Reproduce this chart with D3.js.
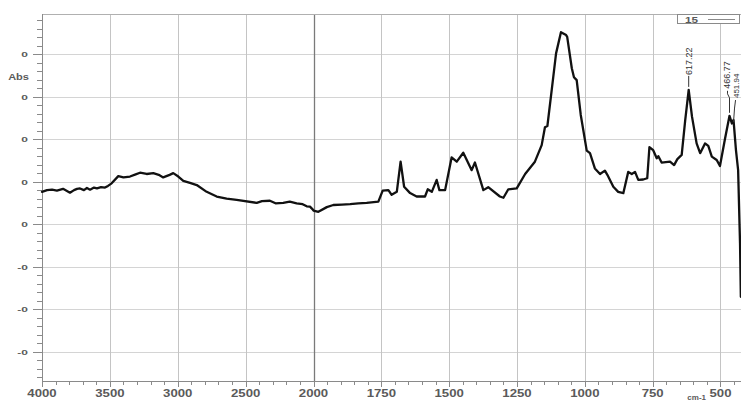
<!DOCTYPE html>
<html><head><meta charset="utf-8">
<script src="https://cdn.jsdelivr.net/npm/d3@7"></script>
<style>
html,body{margin:0;padding:0;background:#fff;overflow:hidden}
svg{display:block}
text{font-family:"Liberation Sans",Arial,sans-serif}
</style></head><body>
<svg id="chart" width="741" height="403"></svg>
<script>
// IR absorbance spectrum of sample 15
const wavenumber = [4000,3963,3926,3890,3845,3816,3794,3764,3742,3720,3691,3669,3646,3617,3595,3565,3536,3514,3487,3438,3400,3352,3310,3278,3229,3180,3140,3107,3060,3033,2996,2959,2910,2860,2787,2713,2640,2566,2418,2380,2321,2280,2223,2175,2124,2080,2050,2026,2010,2000,1982,1951,1927,1895,1865,1835,1804,1761,1745,1724,1712,1693,1679,1666,1644,1620,1589,1579,1564,1546,1536,1515,1491,1472,1448,1417,1405,1374,1356,1313,1300,1282,1251,1220,1184,1159,1147,1138,1122,1106,1088,1069,1065,1048,1040,1030,1015,993,981,963,944,926,917,895,877,858,840,827,815,803,785,770,762,748,735,729,717,686,671,659,643,630,617.22,605,588,575,557,545,532,514,502,483,466.77,458,451.94,443,435,428,425];
const absorbance = [0.0076,0.0080,0.0081,0.0079,0.0083,0.0078,0.0074,0.0080,0.0083,0.0084,0.0080,0.0085,0.0081,0.0086,0.0084,0.0087,0.0086,0.0090,0.0096,0.0113,0.0110,0.0112,0.0117,0.0121,0.0118,0.0120,0.0116,0.0110,0.0116,0.0120,0.0112,0.0102,0.0097,0.0092,0.0076,0.0065,0.0060,0.0057,0.0050,0.0054,0.0055,0.0049,0.0050,0.0053,0.0049,0.0047,0.0042,0.0041,0.0036,0.0032,0.0029,0.0040,0.0045,0.0046,0.0047,0.0049,0.0050,0.0053,0.0079,0.0080,0.0069,0.0076,0.0147,0.0088,0.0073,0.0065,0.0065,0.0082,0.0076,0.0104,0.0080,0.0080,0.0157,0.0147,0.0168,0.0127,0.0145,0.0080,0.0087,0.0065,0.0062,0.0082,0.0084,0.0118,0.0147,0.0186,0.0228,0.0231,0.0316,0.0402,0.0452,0.0445,0.0441,0.0367,0.0346,0.0339,0.0257,0.0173,0.0167,0.0131,0.0118,0.0126,0.0116,0.0088,0.0076,0.0073,0.0123,0.0118,0.0123,0.0104,0.0105,0.0108,0.0181,0.0174,0.0155,0.0160,0.0145,0.0147,0.0139,0.0153,0.0163,0.0245,0.0316,0.0253,0.0190,0.0167,0.0190,0.0184,0.0159,0.0151,0.0137,0.0202,0.0255,0.0237,0.0245,0.0174,0.0127,-0.0045,-0.0171];

const xTicks = [4000,3500,3000,2500,2000,1750,1500,1250,1000,750,500];
const xTickLabels = ["4000","3500","3000","2500","2000","1750","1500","1250","1000","750","500"];
const yTicks = [0.04,0.03,0.02,0.01,0,-0.01,-0.02,-0.03];
const yTickLabels = ["0","0","0","0","0","-0","-0","-0"];
const peakPositions = [617.22,466.77,451.94];
const peakLabels = ["617.22","466.77","451.94"];
const seriesName = "15";
const xTitle = "cm-1";
const yTitle = "Abs";

const svg = d3.select("#chart");
const L = 42, T = 14, B = 381, R = 741;

// split wavenumber axis: 4000-2000 compressed to half the density of 2000-420
const x = d3.scaleLinear().domain([4000, 2000, 420]).range([L, 313.5, 742.2]);
const y = d3.scaleLinear().domain([-0.03694, 0.04947]).range([B, T]);

const gridColor = "#d4d4d4";
const axisColor = "#8a8a8a";
const labelColor = "#5a5a5a";

// horizontal grid
svg.append("g").selectAll("line").data(yTicks).join("line")
  .attr("x1", L).attr("x2", R)
  .attr("y1", d => Math.round(y(d)) + 0.5).attr("y2", d => Math.round(y(d)) + 0.5)
  .attr("stroke", gridColor).attr("stroke-width", 1);

// vertical grid
svg.append("g").selectAll("line").data(xTicks.filter(d => d !== 4000)).join("line")
  .attr("x1", d => Math.round(x(d)) + 0.5).attr("x2", d => Math.round(x(d)) + 0.5)
  .attr("y1", T).attr("y2", B)
  .attr("stroke", d => d === 2000 ? "#7a7a7a" : "#c4c4c4")
  .attr("stroke-width", d => d === 2000 ? 1.3 : 1);

// top frame
svg.append("line").attr("x1", L).attr("x2", R).attr("y1", T + 0.5).attr("y2", T + 0.5)
  .attr("stroke", "#b0b0b0");

// bottom axis
const minorX = d3.range(4000, 2000, -100).concat(d3.range(2000, 420, -50)).filter(d => !xTicks.includes(d));
const gx = svg.append("g");
gx.append("line").attr("x1", L).attr("x2", R).attr("y1", B + 0.5).attr("y2", B + 0.5).attr("stroke", axisColor);
gx.selectAll(".minor").data(minorX).join("line").attr("class", "minor")
  .attr("x1", d => Math.round(x(d)) + 0.5).attr("x2", d => Math.round(x(d)) + 0.5)
  .attr("y1", B).attr("y2", B + 4).attr("stroke", axisColor);
gx.selectAll(".major").data(xTicks).join("line").attr("class", "major")
  .attr("x1", d => Math.round(x(d)) + 0.5).attr("x2", d => Math.round(x(d)) + 0.5)
  .attr("y1", B).attr("y2", B + 6).attr("stroke", axisColor);
gx.selectAll("text").data(xTicks).join("text")
  .attr("transform", d => `translate(${x(d)},${397}) scale(1.32,1)`)
  .attr("text-anchor", "middle").attr("font-size", 10).attr("font-weight", "bold")
  .attr("fill", labelColor)
  .text((d, i) => xTickLabels[i]);

// left axis
const minorY = d3.range(-0.036, 0.0481, 0.002).filter(v => !yTicks.some(t => Math.abs(t - v) < 1e-6));
const gy = svg.append("g");
gy.append("line").attr("x1", L + 0.5).attr("x2", L + 0.5).attr("y1", T).attr("y2", B).attr("stroke", axisColor);
gy.selectAll(".minor").data(minorY).join("line").attr("class", "minor")
  .attr("x1", L - 5).attr("x2", L)
  .attr("y1", d => Math.round(y(d)) + 0.5).attr("y2", d => Math.round(y(d)) + 0.5).attr("stroke", axisColor);
gy.selectAll(".major").data(yTicks).join("line").attr("class", "major")
  .attr("x1", L - 9).attr("x2", L)
  .attr("y1", d => Math.round(y(d)) + 0.5).attr("y2", d => Math.round(y(d)) + 0.5).attr("stroke", axisColor);
gy.selectAll("text").data(yTicks).join("text")
  .attr("transform", d => `translate(28,${y(d) + 3}) scale(1.5,1)`)
  .attr("text-anchor", "end").attr("font-size", 8).attr("font-weight", "bold")
  .attr("fill", labelColor)
  .text((d, i) => yTickLabels[i]);

// axis titles
svg.append("text")
  .attr("transform", "translate(29,80) scale(1.3,1)")
  .attr("text-anchor", "end").attr("font-size", 8.5).attr("font-weight", "bold")
  .attr("fill", labelColor).text(yTitle);
svg.append("text").attr("x", 706).attr("y", 400)
  .attr("text-anchor", "end")
  .attr("font-size", 8).attr("font-weight", "bold").attr("fill", labelColor).text(xTitle);

// spectrum
const pts = wavenumber.map((w, i) => [w, absorbance[i]]);
svg.append("path").datum(pts)
  .attr("fill", "none").attr("stroke", "#111").attr("stroke-width", 2.3)
  .attr("stroke-linejoin", "round").attr("stroke-linecap", "round")
  .attr("d", d3.line().x(d => x(d[0])).y(d => y(d[1])));

// peak annotations
const peakLayout = [
  {dx: 0, textGap: 15, leader: p => [[p[0], p[1] - 3], [p[0], p[1] - 14]]},
  {dx: -3, textGap: 27, leader: p => [[p[0], p[1] - 3], [p[0], p[1] - 18], [p[0] - 2, p[1] - 22], [p[0] - 2, p[1] - 25]]},
  {dx: 2.5, textGap: 22, leader: p => [[p[0], p[1] + 2], [p[0] + 1, p[1] - 12], [p[0] + 2, p[1] - 20]]}
];
const ga = svg.append("g");
peakPositions.forEach((w, i) => {
  const a = absorbance[wavenumber.indexOf(w)];
  const p = [x(w), y(a)];
  const lay = peakLayout[i];
  ga.append("path").attr("d", d3.line()(lay.leader(p)))
    .attr("fill", "none").attr("stroke", "#333").attr("stroke-width", 1);
  ga.append("text")
    .attr("transform", `translate(${p[0] + lay.dx + 3},${p[1] - lay.textGap}) rotate(-90)`)
    .attr("font-size", i === 2 ? 8 : 9).attr("fill", "#333")
    .text(peakLabels[i]);
});

// legend
const lg = svg.append("g");
lg.append("rect").attr("x", 677.5).attr("y", 14.5).attr("width", 62).attr("height", 9)
  .attr("fill", "#fff").attr("stroke", "#8a8a8a");
lg.append("text").attr("transform", "translate(685,23) scale(1.3,1)")
  .attr("font-size", 9).attr("font-weight", "bold").attr("fill", labelColor).text(seriesName);
lg.append("line").attr("x1", 708).attr("x2", 735).attr("y1", 19.5).attr("y2", 19.5)
  .attr("stroke", "#8a8a8a").attr("stroke-width", 1);
</script>
</body></html>
